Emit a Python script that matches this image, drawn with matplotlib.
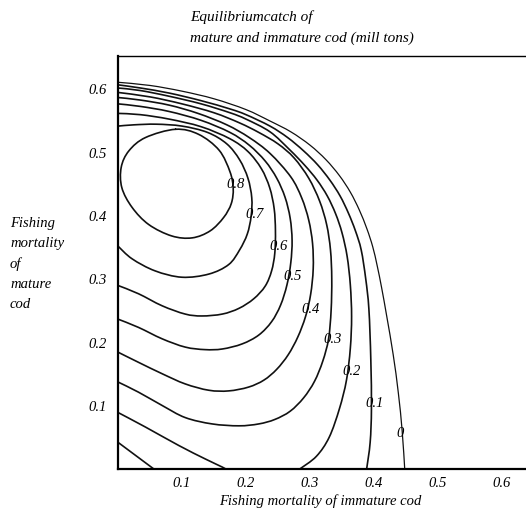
import matplotlib
matplotlib.use("Agg")
import matplotlib.pyplot as plt
from matplotlib.path import Path
from matplotlib.patches import PathPatch
import numpy as np

# ---- data: contour paths (x = F immature, y = F mature) ----
levels = ["0", "0.1", "0.2", "0.3", "0.4", "0.5", "0.6", "0.7", "0.8"]

c0_x = [0.000, 0.050, 0.100, 0.150, 0.200, 0.2375, 0.270, 0.300, 0.325, 0.346, 0.363, 0.377, 0.389, 0.398, 0.405, 0.412, 0.420, 0.430, 0.438, 0.444, 0.448]
c0_y = [0.609, 0.604, 0.595, 0.583, 0.566, 0.548, 0.531, 0.510, 0.487, 0.462, 0.436, 0.408, 0.378, 0.350, 0.320, 0.285, 0.240, 0.180, 0.120, 0.060, 0.000]

c1_x = [0.000, 0.035, 0.080, 0.130, 0.175, 0.200, 0.2375, 0.265, 0.290, 0.312, 0.331, 0.347, 0.360, 0.371, 0.380, 0.387, 0.392, 0.395, 0.396, 0.394, 0.3885]
c1_y = [0.605, 0.600, 0.592, 0.580, 0.567, 0.558, 0.540, 0.522, 0.501, 0.479, 0.455, 0.430, 0.403, 0.375, 0.345, 0.300, 0.252, 0.173, 0.095, 0.042, 0.000]
c1b_x = [0.000, 0.028, 0.056]
c1b_y = [0.042, 0.021, 0.000]

c2_x = [0.000, 0.035, 0.080, 0.130, 0.175, 0.200, 0.2375, 0.268, 0.292, 0.311, 0.327, 0.340, 0.350, 0.358, 0.363, 0.365, 0.363, 0.357, 0.346, 0.330, 0.310, 0.284]
c2_y = [0.600, 0.596, 0.587, 0.575, 0.561, 0.551, 0.531, 0.503, 0.478, 0.455, 0.430, 0.402, 0.372, 0.335, 0.290, 0.240, 0.190, 0.140, 0.095, 0.050, 0.020, 0.000]
c2b_x = [0.000, 0.043, 0.095, 0.136, 0.163, 0.168]
c2b_y = [0.089, 0.066, 0.037, 0.016, 0.003, 0.000]

c3_x = [0.000, 0.032, 0.069, 0.105, 0.147, 0.189, 0.220, 0.245, 0.269, 0.290, 0.307, 0.320, 0.329, 0.333, 0.334, 0.332, 0.326, 0.315, 0.298, 0.275, 0.250, 0.220, 0.190, 0.150, 0.100, 0.050, 0.000]
c3_y = [0.137, 0.121, 0.100, 0.081, 0.071, 0.068, 0.071, 0.078, 0.091, 0.112, 0.138, 0.170, 0.205, 0.250, 0.300, 0.345, 0.385, 0.422, 0.458, 0.490, 0.512, 0.530, 0.545, 0.561, 0.575, 0.586, 0.593]

c4_x = [0.000, 0.032, 0.069, 0.105, 0.142, 0.173, 0.204, 0.228, 0.248, 0.266, 0.281, 0.293, 0.301, 0.305, 0.304, 0.298, 0.287, 0.270, 0.2375, 0.205, 0.170, 0.125, 0.080, 0.035, 0.000]
c4_y = [0.184, 0.168, 0.150, 0.134, 0.124, 0.123, 0.129, 0.140, 0.157, 0.180, 0.208, 0.240, 0.275, 0.315, 0.355, 0.392, 0.427, 0.460, 0.497, 0.522, 0.542, 0.560, 0.573, 0.581, 0.585]

c5_x = [0.000, 0.032, 0.069, 0.105, 0.136, 0.163, 0.194, 0.220, 0.240, 0.254, 0.264, 0.270, 0.272, 0.269, 0.261, 0.248, 0.230, 0.205, 0.175, 0.130, 0.080, 0.035, 0.000]
c5_y = [0.236, 0.223, 0.205, 0.192, 0.188, 0.189, 0.197, 0.211, 0.232, 0.258, 0.290, 0.325, 0.360, 0.395, 0.428, 0.458, 0.485, 0.510, 0.530, 0.549, 0.563, 0.571, 0.575]

c6_x = [0.000, 0.032, 0.069, 0.105, 0.131, 0.163, 0.189, 0.212, 0.230, 0.240, 0.245, 0.246, 0.244, 0.237, 0.224, 0.203, 0.175, 0.130, 0.080, 0.035, 0.000]
c6_y = [0.289, 0.276, 0.257, 0.244, 0.241, 0.244, 0.253, 0.268, 0.288, 0.312, 0.340, 0.375, 0.410, 0.443, 0.473, 0.500, 0.520, 0.539, 0.551, 0.558, 0.560]

c7_x = [0.000, 0.022, 0.058, 0.100, 0.142, 0.173, 0.190, 0.202, 0.208, 0.209, 0.203, 0.190, 0.170, 0.140, 0.100, 0.060, 0.025, 0.000]
c7_y = [0.351, 0.331, 0.312, 0.302, 0.307, 0.322, 0.345, 0.370, 0.398, 0.427, 0.458, 0.487, 0.512, 0.530, 0.540, 0.543, 0.542, 0.540]

c8_x = [0.090, 0.043, 0.017, 0.005, 0.006, 0.022, 0.048, 0.084, 0.116, 0.144, 0.165, 0.177, 0.180, 0.175, 0.158, 0.126, 0.090]
c8_y = [0.535, 0.522, 0.501, 0.475, 0.443, 0.412, 0.385, 0.367, 0.364, 0.375, 0.396, 0.418, 0.442, 0.468, 0.502, 0.527, 0.535]

# label heights (y of the label on each contour's right-hand side)
label_y = [0.058, 0.105, 0.155, 0.205, 0.252, 0.304, 0.352, 0.402, 0.450]

x_ticks = [0.1, 0.2, 0.3, 0.4, 0.5, 0.6]
y_ticks = [0.1, 0.2, 0.3, 0.4, 0.5, 0.6]


def smooth_path(xs, ys, closed=False):
    """Smooth Bezier path passing through the given data points."""
    P = np.column_stack([xs, ys]).astype(float)
    if closed:
        P = P[:-1]
    n = len(P)
    verts = [P[0]]
    codes = [Path.MOVETO]
    segs = n if closed else n - 1
    for i in range(segs):
        p1 = P[i]
        p2 = P[(i + 1) % n]
        p0 = P[(i - 1) % n] if (closed or i > 0) else P[i]
        p3 = P[(i + 2) % n] if (closed or i + 2 < n) else P[i + 1]
        verts += [p1 + (p2 - p0) / 6.0, p2 - (p3 - p1) / 6.0, p2]
        codes += [Path.CURVE4] * 3
    return Path(np.array(verts), codes)


# ---- figure ----
plt.rcParams['font.family'] = ['Liberation Serif', 'DejaVu Serif']
fig = plt.figure(figsize=(5.26, 5.10), dpi=100)
ax = fig.add_axes([118/526, 40/510, 408/526, 413/510])

main_paths = [(c0_x, c0_y), (c1_x, c1_y), (c2_x, c2_y), (c3_x, c3_y), (c4_x, c4_y),
              (c5_x, c5_y), (c6_x, c6_y), (c7_x, c7_y), (c8_x, c8_y)]
extra_paths = [(c1b_x, c1b_y), (c2b_x, c2b_y)]

for i, (xs, ys) in enumerate(main_paths):
    ax.add_patch(PathPatch(smooth_path(xs, ys, closed=(i == 8)), fill=False,
                           edgecolor='#111111', lw=0.9 if i == 0 else 1.2,
                           joinstyle='round', capstyle='round'))
for xs, ys in extra_paths:
    ax.add_patch(PathPatch(smooth_path(xs, ys), fill=False, edgecolor='#111111',
                           lw=1.2, joinstyle='round', capstyle='round'))

# contour labels: placed on the right-hand side of each contour at the given height
for i, (xs, ys) in enumerate(main_paths):
    xs = np.asarray(xs); ys = np.asarray(ys)
    ty = label_y[i]
    best = None
    for k in range(len(xs) - 1):
        y0, y1 = ys[k], ys[k + 1]
        if (y0 - ty) * (y1 - ty) <= 0 and y0 != y1:
            t = (ty - y0) / (y1 - y0)
            xc = xs[k] + t * (xs[k + 1] - xs[k])
            if best is None or xc > best:
                best = xc
    ax.annotate(levels[i], (best, ty), xytext=(-4, 0), textcoords='offset points',
                ha='left', va='center', fontsize=10.5, style='italic')

ax.set_xlim(0, 408/640)
ax.set_ylim(0, 413/635)
ax.set_xticks(x_ticks)
ax.set_yticks(y_ticks)
ax.set_xticklabels([f"{v:.1f}" for v in x_ticks], style='italic', fontsize=10.5)
ax.set_yticklabels([f"{v:.1f}" for v in y_ticks], style='italic', fontsize=10.5)
ax.tick_params(axis='x', direction='in', length=0, pad=5)
ax.tick_params(axis='y', direction='in', length=0, pad=8)
ax.spines['right'].set_visible(False)
ax.spines['left'].set_linewidth(1.6)
ax.spines['bottom'].set_linewidth(1.6)
ax.spines['top'].set_linewidth(1.0)

fig.text(190/526, 1 - 17/510, "Equilibriumcatch of", style='italic', fontsize=11,
         ha='left', va='center')
fig.text(190/526, 1 - 38/510, "mature and immature cod (mill tons)", style='italic',
         fontsize=11, ha='left', va='center')
fig.text(10/526, 1 - 264/510, "Fishing\nmortality\nof\nmature\ncod", style='italic',
         fontsize=10.5, ha='left', va='center', linespacing=1.7)
fig.text(320/526, 1 - 501/510, "Fishing mortality of immature cod", style='italic',
         fontsize=10.5, ha='center', va='center')

fig.savefig("out.png", dpi=100)
